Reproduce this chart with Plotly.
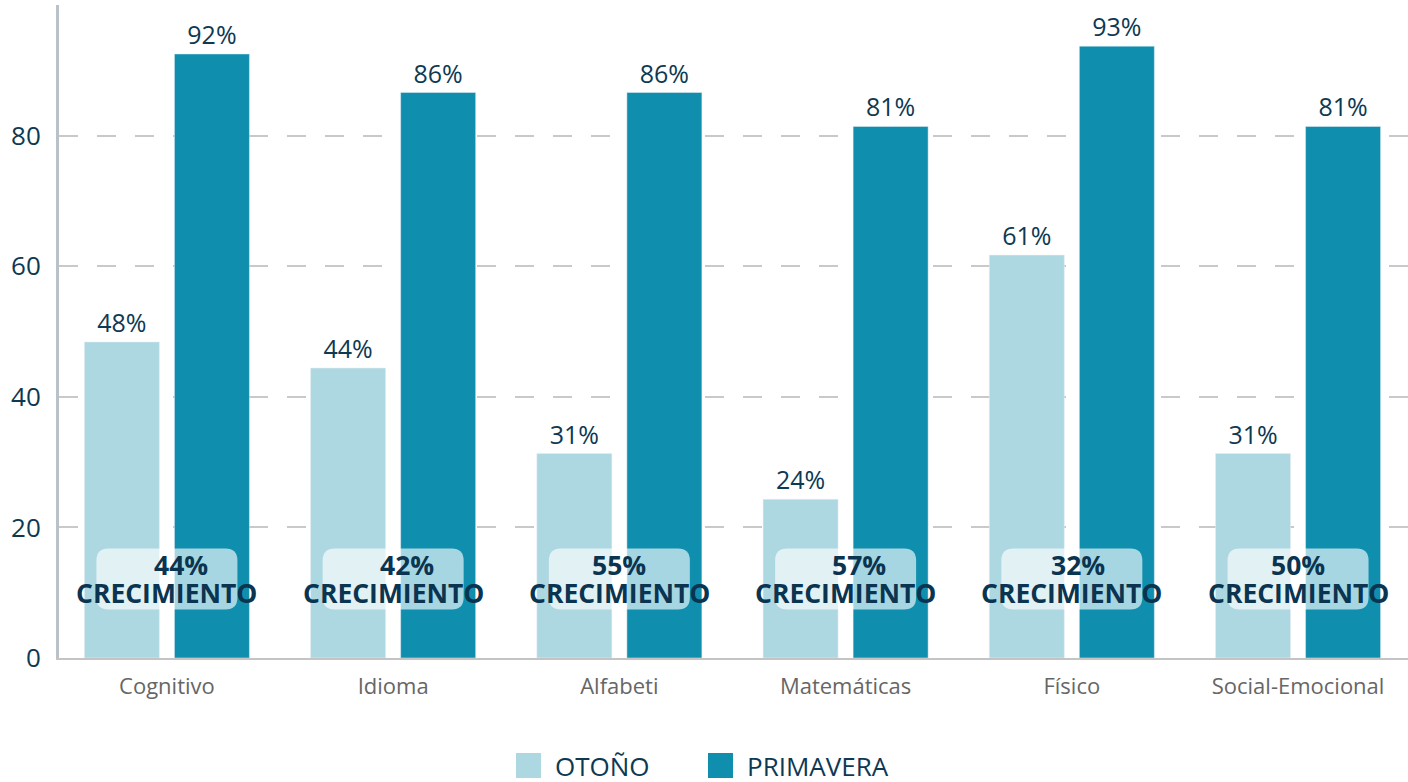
import plotly.graph_objects as go

categories = ["Cognitivo", "Idioma", "Alfabeti", "Matemáticas", "Físico", "Social-Emocional"]
otono = [48.4, 44.4, 31.3, 24.3, 61.7, 31.3]
primavera = [92.5, 86.6, 86.6, 81.4, 93.7, 81.4]
otono_labels = ["48%", "44%", "31%", "24%", "61%", "31%"]
primavera_labels = ["92%", "86%", "86%", "81%", "93%", "81%"]
growth = ["44%", "42%", "55%", "57%", "32%", "50%"]
y_ticks = [0, 20, 40, 60, 80]

NAVY = "#0d3953"
LIGHT = "#ADD8E1"
DARK = "#0F8FAD"
FONT = "Open Sans"
pct_xshift = [14, 14, 0, 13, 6, 0]

W, H = 1408, 782
L, R, T, B = 59, 0, 5, 124
pw, ph = W - L - R, H - T - B


def px(x):
    return (x - L) / pw


def py(y):
    return (H - B - y) / ph


fig = go.Figure()
fig.add_trace(go.Bar(
    x=categories, y=otono, name="OTOÑO", marker_color=LIGHT,
    text=otono_labels, textposition="outside", cliponaxis=False,
    textfont=dict(size=25, color=NAVY, family=FONT), showlegend=False,
))
fig.add_trace(go.Bar(
    x=categories, y=primavera, name="PRIMAVERA", marker_color=DARK,
    text=primavera_labels, textposition="outside", cliponaxis=False,
    textfont=dict(size=25, color=NAVY, family=FONT), showlegend=False,
))

# growth boxes
bw, bh, r = 141, 61, 12
hx, hy = bw / 2, bh / 2
path = (f"M {-hx + r},{-hy} L {hx - r},{-hy} Q {hx},{-hy} {hx},{-hy + r} "
        f"L {hx},{hy - r} Q {hx},{hy} {hx - r},{hy} L {-hx + r},{hy} "
        f"Q {-hx},{hy} {-hx},{hy - r} L {-hx},{-hy + r} Q {-hx},{-hy} {-hx + r},{-hy} Z")
box_y = 12.1
gfont = dict(size=26.5, color="#0a3450", family=FONT)
for i, g in enumerate(growth):
    fig.add_shape(type="path", xref="x", yref="y", xsizemode="pixel", ysizemode="pixel",
                  xanchor=i, yanchor=box_y, path=path,
                  fillcolor="rgba(255,255,255,0.63)", line=dict(width=0), layer="above")
    fig.add_annotation(x=i, y=box_y, xref="x", yref="y", showarrow=False,
                       text=f"<b>{g}</b>", font=gfont, yshift=14, xshift=pct_xshift[i])
    fig.add_annotation(x=i, y=box_y, xref="x", yref="y", showarrow=False,
                       text="<b>CRECIMIENTO</b>", font=gfont, yshift=-14)

# legend (manual, large squares)
leg = [("OTOÑO", LIGHT, 516, 553), ("PRIMAVERA", DARK, 708, 745)]
for name, col, sx, tx in leg:
    fig.add_shape(type="rect", xref="paper", yref="paper",
                  x0=px(sx), x1=px(sx + 25), y0=py(778), y1=py(753),
                  fillcolor=col, line=dict(width=0))
    fig.add_annotation(x=px(tx), y=py(766), xref="paper", yref="paper",
                       xanchor="left", yanchor="middle", showarrow=False,
                       text=name, font=dict(size=26, color=NAVY, family=FONT))

fig.update_layout(
    width=W, height=H,
    margin=dict(l=L, r=R, t=T, b=B),
    plot_bgcolor="white", paper_bgcolor="white",
    barmode="group", bargap=0.204, bargroupgap=0.167,
    font=dict(family=FONT, color=NAVY),
    showlegend=False,
)
fig.update_xaxes(
    type="category", range=[-0.477, 5.486],
    showline=True, linecolor="#c4c4c4", linewidth=2,
    showgrid=False, ticks="", ticklabelstandoff=8,
    tickfont=dict(size=22, color="#666666", family=FONT),
)
fig.update_yaxes(
    range=[0, 100], tickvals=y_ticks,
    showline=True, linecolor="#b9c2c9", linewidth=3,
    showgrid=True, gridcolor="#c9c9c9", gridwidth=2, griddash="19px,19px",
    zeroline=False, ticks="", ticklabelstandoff=10,
    tickfont=dict(size=26, color=NAVY, family=FONT),
)

fig.write_html("out.html", config={"displayModeBar": False},
               post_script="document.body.style.margin='0';document.body.style.overflow='hidden';")
